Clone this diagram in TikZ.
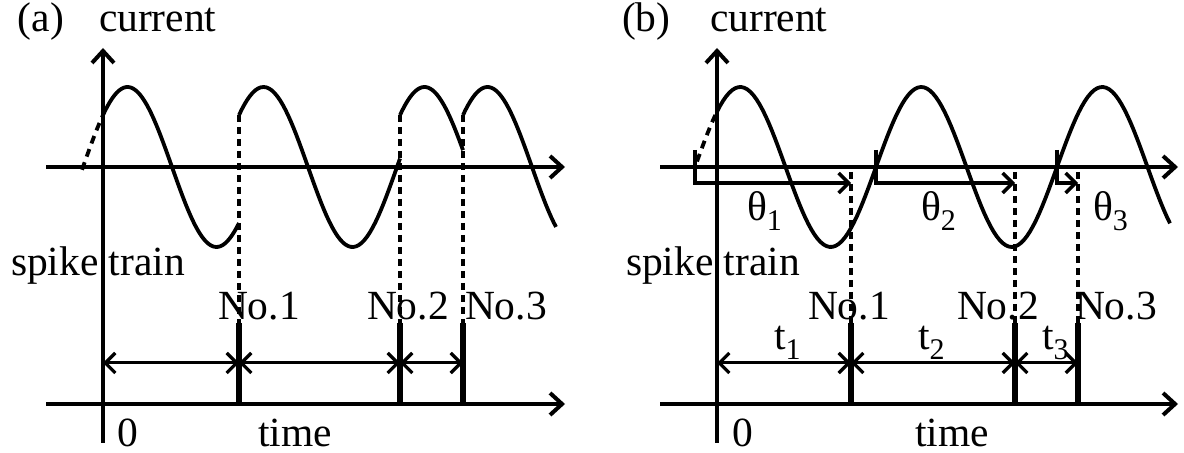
\documentclass[tikz,border=0pt]{standalone}
\usepackage{fontspec}
\setmainfont{Liberation Serif}
\usetikzlibrary{arrows.meta}
\newcommand{\lowidx}[2]{#1\raisebox{-0.24em}{\fontsize{15}{15}\selectfont #2}}

\begin{document}
\begin{tikzpicture}[
  x=0.5pt, y=-0.5pt,
  every node/.style={font=\fontsize{20.75}{24}\selectfont, inner sep=0pt, outer sep=0pt, anchor=base west},
  ax/.style={line width=2.2pt, -{Straight Barb[length=6pt, width=11pt, line width=2pt]}},
  wave/.style={line width=1.9pt},
  wavedash/.style={line width=1.9pt, dash pattern=on 4pt off 3pt},
  guide/.style={line width=2.1pt, dash pattern=on 3.5pt off 2.5pt},
  spike/.style={line width=2.8pt},
  isi/.style={line width=1.5pt, {Straight Barb[length=5pt, width=10pt, line width=1.6pt]}-{Straight Barb[length=5pt, width=10pt, line width=1.6pt]}},
  phasearr/.style={line width=1.7pt, -{Straight Barb[length=5pt, width=10pt, line width=1.7pt]}},
]
\useasboundingbox (0,0) rectangle (1184,453);

% ---------------- (a) reset phase ----------------
\coordinate (ya0) at (103,443);
\coordinate (ya1) at (103,48);
\coordinate (xa0) at (46,167);
\coordinate (xa1) at (565,167);
\coordinate (ta0) at (46,404);
\coordinate (ta1) at (565,404);
\draw[ax] (ya0) -- (ya1);
\draw[ax] (xa0) -- (xa1);
\draw[ax] (ta0) -- (ta1);

\node (laba)   at (18,32)  {(a)};
\node (cura)   at (99,32)  {current};
\node (traina) at (11,276) {spike train};
\node (zeroa)  at (117,447) {0};
\node (timea)  at (258,447) {time};

\draw[wavedash, domain=82:103, samples=12] plot (\x, {167-80*sin((\x-83)/178*360)});
\draw[wave, domain=103:239, samples=60] plot (\x, {167-80*sin((\x-83)/178*360)});
\draw[wave, domain=239:400, samples=60] plot (\x, {167-80*sin((\x-219)/178*360)});
\draw[wave, domain=400:463, samples=30] plot (\x, {167-80*sin((\x-380)/178*360)});
\draw[wave, domain=463:556, samples=40] plot (\x, {167-80*sin((\x-443)/178*360)});

\node (noa1) at (218,320) {No.1};
\node (noa2) at (367,320) {No.2};
\node (noa3) at (465,320) {No.3};

\coordinate (ga1) at (239,115); \coordinate (sta1) at (239,323); \coordinate (sa1) at (239,404);
\coordinate (ga2) at (400,115); \coordinate (sta2) at (400,323); \coordinate (sa2) at (400,404);
\coordinate (ga3) at (463,115); \coordinate (sta3) at (463,323); \coordinate (sa3) at (463,404);
\draw[guide] (ga1) -- (sta1);
\draw[guide] (ga2) -- (sta2);
\draw[guide] (ga3) -- (sta3);
\draw[spike] (sta1) -- (sa1);
\draw[spike] (sta2) -- (sa2);
\draw[spike] (sta3) -- (sa3);

\coordinate (ra0) at (103,363);
\coordinate (ra1) at (239,363);
\coordinate (ra2) at (400,363);
\coordinate (ra3) at (463,363);
\draw[isi] (ra0) -- (ra1);
\draw[isi] (ra1) -- (ra2);
\draw[isi] (ra2) -- (ra3);

% ---------------- (b) phase kept ----------------
\coordinate (yb0) at (717,443);
\coordinate (yb1) at (717,48);
\coordinate (xb0) at (660,167);
\coordinate (xb1) at (1178,167);
\coordinate (tb0) at (660,404);
\coordinate (tb1) at (1178,404);
\draw[ax] (yb0) -- (yb1);
\draw[ax] (xb0) -- (xb1);
\draw[ax] (tb0) -- (tb1);

\node (labb)   at (622,32)  {(b)};
\node (curb)   at (710,32)  {current};
\node (trainb) at (626,276) {spike train};
\node (zerob)  at (732,447) {0};
\node (timeb)  at (915,447) {time};

\draw[wavedash, domain=697:717, samples=12] plot (\x, {167-80*sin((\x-695)/181*360)});
\draw[wave, domain=717:1170, samples=150] plot (\x, {167-80*sin((\x-695)/181*360)});

% phase arrows from each upward crossing
\coordinate (cb1) at (695,150);
\coordinate (cb2) at (876,150);
\coordinate (cb3) at (1057,150);
\coordinate (pb1) at (851,183);
\coordinate (pb2) at (1015,183);
\coordinate (pb3) at (1078,183);
\draw[phasearr] (cb1) |- (pb1);
\draw[phasearr] (cb2) |- (pb2);
\draw[phasearr] (cb3) |- (pb3);
\node (thb1) at (747,221)  {\lowidx{θ}{1}};
\node (thb2) at (921,221)  {\lowidx{θ}{2}};
\node (thb3) at (1093,221) {\lowidx{θ}{3}};

\node (nob1) at (808,320)  {No.1};
\node (nob2) at (957,320)  {No.2};
\node (nob3) at (1075,320) {No.3};

\coordinate (gb1) at (851,172);  \coordinate (stb1) at (851,323);  \coordinate (sb1) at (851,404);
\coordinate (gb2) at (1015,172); \coordinate (stb2) at (1015,323); \coordinate (sb2) at (1015,404);
\coordinate (gb3) at (1078,172); \coordinate (stb3) at (1078,323); \coordinate (sb3) at (1078,404);
\draw[guide] (gb1) -- (stb1);
\draw[guide] (gb2) -- (stb2);
\draw[guide] (gb3) -- (stb3);
\draw[spike] (stb1) -- (sb1);
\draw[spike] (stb2) -- (sb2);
\draw[spike] (stb3) -- (sb3);

\coordinate (rb0) at (717,363);
\coordinate (rb1) at (851,363);
\coordinate (rb2) at (1015,363);
\coordinate (rb3) at (1078,363);
\draw[isi] (rb0) -- (rb1);
\draw[isi] (rb1) -- (rb2);
\draw[isi] (rb2) -- (rb3);
\node (tlb1) at (774,350)  {\lowidx{t}{1}};
\node (tlb2) at (918,350)  {\lowidx{t}{2}};
\node (tlb3) at (1042,350) {\lowidx{t}{3}};
\end{tikzpicture}
\end{document}
